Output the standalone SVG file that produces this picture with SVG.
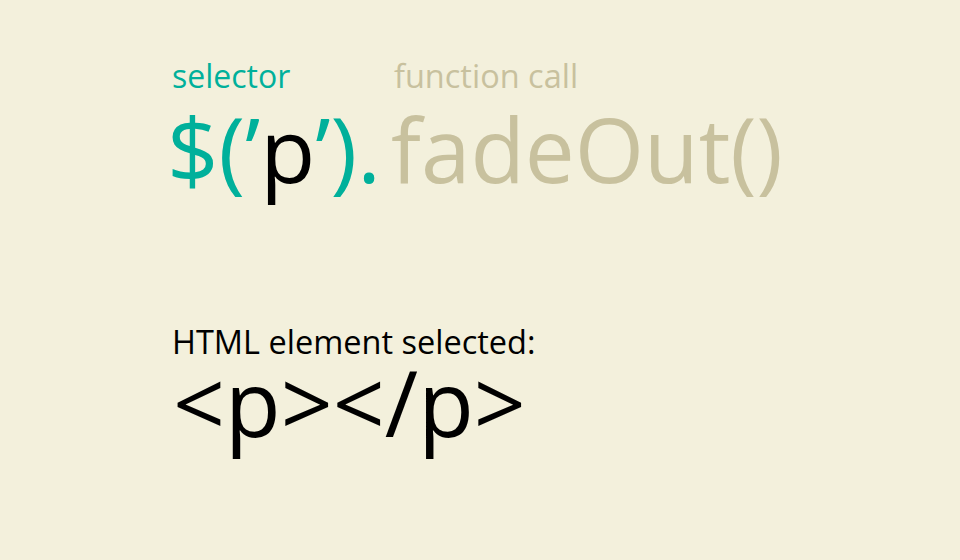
<svg xmlns="http://www.w3.org/2000/svg" width="960" height="560" viewBox="0 0 960 560">
<style>
text{font-family:"Open Sans","Noto Sans","DejaVu Sans",sans-serif;}
.teal{fill:#00b09b}
.beige{fill:#c8c19e}
.black{fill:#000}
.small{font-size:32px}
.big{font-size:90px}
</style>
<rect width="960" height="560" fill="#f3f0dc"/>
<g id="selector-label"><text class="teal small" x="172" y="88">selector</text></g>
<g id="function-label"><text class="beige" x="394" y="88" font-size="32.5">function call</text></g>
<g id="selector-code"><text class="big" x="167" y="183"><tspan class="teal">$(’</tspan><tspan class="black">p</tspan><tspan class="teal">’).</tspan></text></g>
<g id="function-code"><text class="beige" x="391" y="183" font-size="89">fadeOut()</text></g>
<g id="html-label"><text class="black" x="172" y="354" font-size="32.5">HTML element selected:</text></g>
<g id="html-element"><text class="black" x="173" y="437" font-size="91">&lt;p&gt;&lt;/p&gt;</text></g>
</svg>
